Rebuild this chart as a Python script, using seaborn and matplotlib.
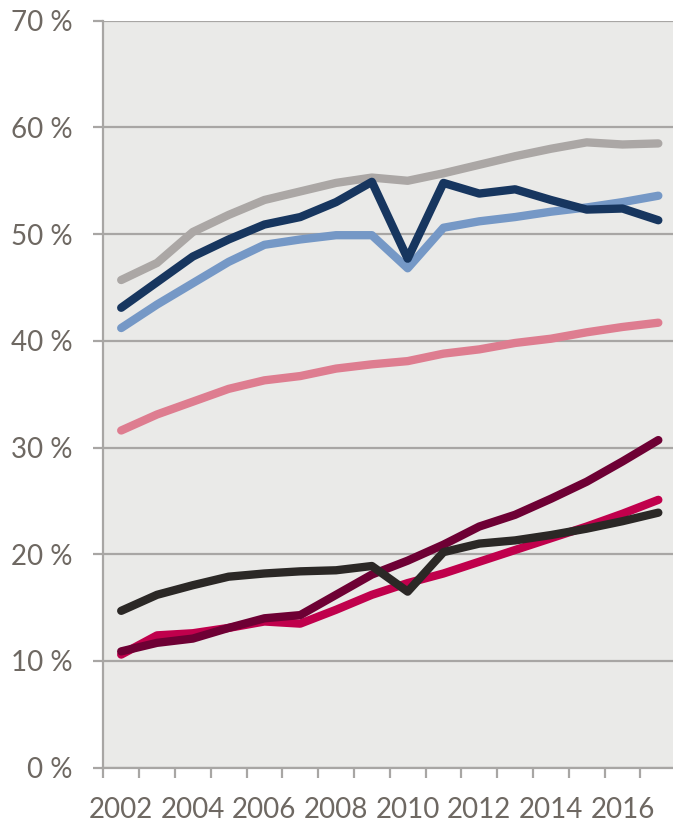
import matplotlib
matplotlib.use("Agg")
import matplotlib.pyplot as plt
import seaborn as sns
import pandas as pd
from matplotlib.ticker import FixedLocator, FuncFormatter

# Data (percent), one value per year 2002-2017
years = list(range(2002, 2018))
gray_vals = [45.7, 47.3, 50.2, 51.8, 53.2, 54.0, 54.8, 55.3, 55.0, 55.7, 56.5, 57.3, 58.0, 58.6, 58.4, 58.5]
lightblue_vals = [41.2, 43.4, 45.4, 47.4, 49.0, 49.5, 49.9, 49.9, 46.8, 50.6, 51.2, 51.6, 52.1, 52.5, 53.0, 53.6]
navy_vals = [43.1, 45.5, 47.9, 49.5, 50.9, 51.6, 53.0, 54.9, 47.7, 54.8, 53.8, 54.2, 53.2, 52.3, 52.4, 51.3]
pink_vals = [31.6, 33.1, 34.3, 35.5, 36.3, 36.7, 37.4, 37.8, 38.1, 38.8, 39.2, 39.8, 40.2, 40.8, 41.3, 41.7]
crimson_vals = [10.6, 12.4, 12.6, 13.1, 13.7, 13.5, 14.8, 16.2, 17.3, 18.2, 19.3, 20.4, 21.5, 22.6, 23.8, 25.1]
maroon_vals = [10.9, 11.7, 12.1, 13.1, 14.0, 14.3, 16.2, 18.1, 19.4, 20.9, 22.6, 23.7, 25.2, 26.8, 28.7, 30.7]
black_vals = [14.7, 16.2, 17.1, 17.9, 18.2, 18.4, 18.5, 18.9, 16.5, 20.2, 21.0, 21.3, 21.8, 22.4, 23.1, 23.9]

series = {
    "gray": gray_vals,
    "lightblue": lightblue_vals,
    "navy": navy_vals,
    "pink": pink_vals,
    "crimson": crimson_vals,
    "maroon": maroon_vals,
    "black": black_vals,
}
palette = {
    "gray": "#aba7a5",
    "lightblue": "#7598c6",
    "navy": "#17365f",
    "pink": "#de7d90",
    "crimson": "#c0004c",
    "maroon": "#6e0034",
    "black": "#2b2826",
}

df = pd.concat(
    [pd.DataFrame({"year": years, "value": v, "series": k}) for k, v in series.items()],
    ignore_index=True,
)

text_color = "#6e6862"
grid_color = "#a8a6a4"

sns.set_style("white")
plt.rcParams["font.family"] = ["Lato", "DejaVu Sans"]

fig = plt.figure(figsize=(6.73, 8.23), dpi=100)
ax = fig.add_axes([103.3 / 673, 55.3 / 823, 1 - 103.3 / 673, (767.7 - 20.7) / 823])
ax.set_facecolor("#eaeae8")

sns.lineplot(
    data=df, x="year", y="value", hue="series", palette=palette,
    linewidth=6, legend=False, ax=ax,
    solid_capstyle="round", solid_joinstyle="round",
)

ax.set_xlim(2001.5, 2017.41)
ax.set_ylim(0, 70)

# y axis
ax.set_yticks(range(0, 71, 10))
ax.yaxis.set_major_formatter(FuncFormatter(lambda v, p: f"{int(v)} %"))
ax.grid(axis="y", color=grid_color, linewidth=1.6)
ax.grid(axis="x", visible=False)

# x axis: tick marks between categories, labels at even years
ax.xaxis.set_major_locator(FixedLocator([y + 0.5 for y in range(2001, 2017)]))
ax.xaxis.set_minor_locator(FixedLocator(list(range(2002, 2017, 2))))
ax.xaxis.set_major_formatter(FuncFormatter(lambda v, p: ""))
ax.xaxis.set_minor_formatter(FuncFormatter(lambda v, p: f"{int(v)}"))

ax.tick_params(axis="y", which="major", left=True, length=7.2, width=1.6,
               color=grid_color, labelcolor=text_color, labelsize=20, pad=15)
ax.tick_params(axis="x", which="major", bottom=True, length=7.2, width=1.6,
               color=grid_color)
ax.tick_params(axis="x", which="minor", bottom=True, length=0,
               labelcolor=text_color, labelsize=20, pad=21)

for side in ["top", "right"]:
    ax.spines[side].set_visible(False)
for side in ["left", "bottom"]:
    ax.spines[side].set_color(grid_color)
    ax.spines[side].set_linewidth(1.6)

ax.set_xlabel("")
ax.set_ylabel("")

fig.savefig("out.png", dpi=100)
